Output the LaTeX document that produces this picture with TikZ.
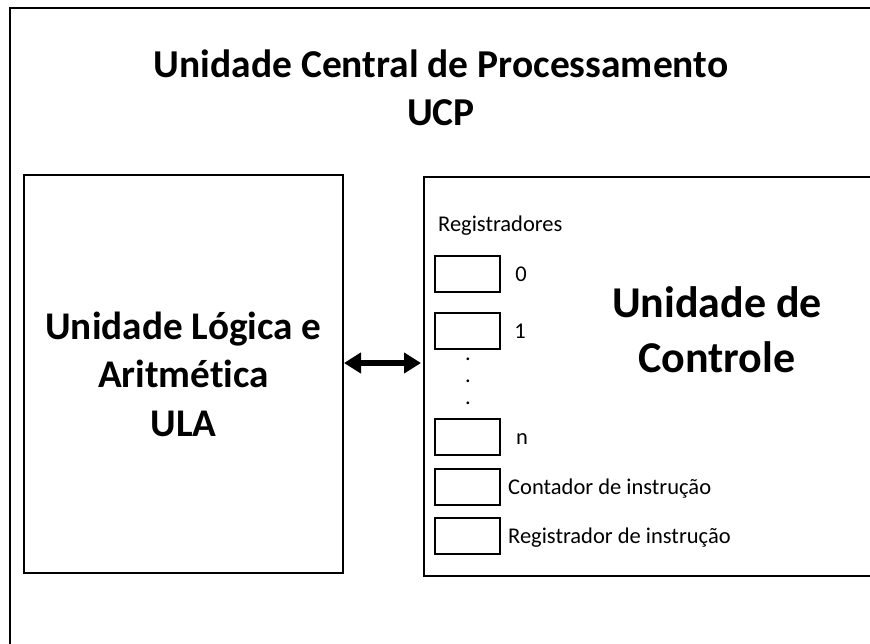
\documentclass[tikz,border=0pt]{standalone}
\usepackage{fontspec}
\setmainfont{Carlito}[Ligatures=NoCommon]
\usetikzlibrary{arrows.meta}
\begin{document}
\begin{tikzpicture}[x=1pt,y=-1pt,
  frame/.style={draw=black,line width=2pt,inner sep=0pt,outer sep=0pt},
  regbox/.style={frame,minimum width=65pt,minimum height=36pt},
  small/.style={font=\fontsize{22.5}{24}\selectfont,inner sep=0pt},
  bigtxt/.style={font=\bfseries\fontsize{39.2}{48.5}\selectfont,align=center,inner sep=0pt},
  dblarrow/.style={line width=6pt,{Triangle[length=17pt,width=20pt]}-{Triangle[length=17pt,width=20pt]}}
]
\useasboundingbox (0,0) rectangle (870,644);
\clip (0,0) rectangle (870,644);
\fill[white] (0,0) rectangle (870,644);

% outer box
\node[frame,anchor=north west,minimum width=900pt,minimum height=700pt] (ucp) at (10,8) {};
\node[font=\bfseries\fontsize{39.5}{48.5}\selectfont,align=center,inner sep=0pt] (title) at (441,88)
  {Unidade Central de Processamento\\UCP};

% ULA
\node[frame,anchor=north west,minimum width=319pt,minimum height=398pt,bigtxt] (ula) at (24,175)
  {Unidade Lógica e\\Aritmética\\ULA};

% Unidade de Controle
\node[frame,anchor=north west,minimum width=480pt,minimum height=399pt] (uc) at (424,177) {};
\node[font=\bfseries\fontsize{44}{55}\selectfont,align=center,inner sep=0pt] (uctxt) at (717,330)
  {Unidade de\\Controle};

% arrow
\coordinate (ay) at (0,363);
\draw[dblarrow,shorten <=1pt,shorten >=3pt] (ula.east |- ay) -- (uc.west |- ay);

% registers
\node[small,anchor=base west] (regs) at (438,232) {Registradores};
\node[regbox] (r0) at (467.5,274) {};
\node[regbox] (r1) at (467.5,331) {};
\node[regbox] (rn) at (467.5,437) {};
\node[regbox] (rci) at (467.5,487) {};
\node[regbox] (rri) at (467.5,536) {};
\node[small] (l0) at (521,274) {0};
\node[small] (l1) at (520,331) {1};
\node[small,anchor=base] (ln) at (522,444) {n};
\node[small,anchor=base west] (lci) at (508,494) {Contador de instrução};
\node[small,anchor=base west] (lri) at (508,543) {Registrador de instrução};
\node[small,anchor=base] (d1) at (468,360) {.};
\node[small,anchor=base] (d2) at (468,382) {.};
\node[small,anchor=base] (d3) at (468,404) {.};
\end{tikzpicture}
\end{document}
